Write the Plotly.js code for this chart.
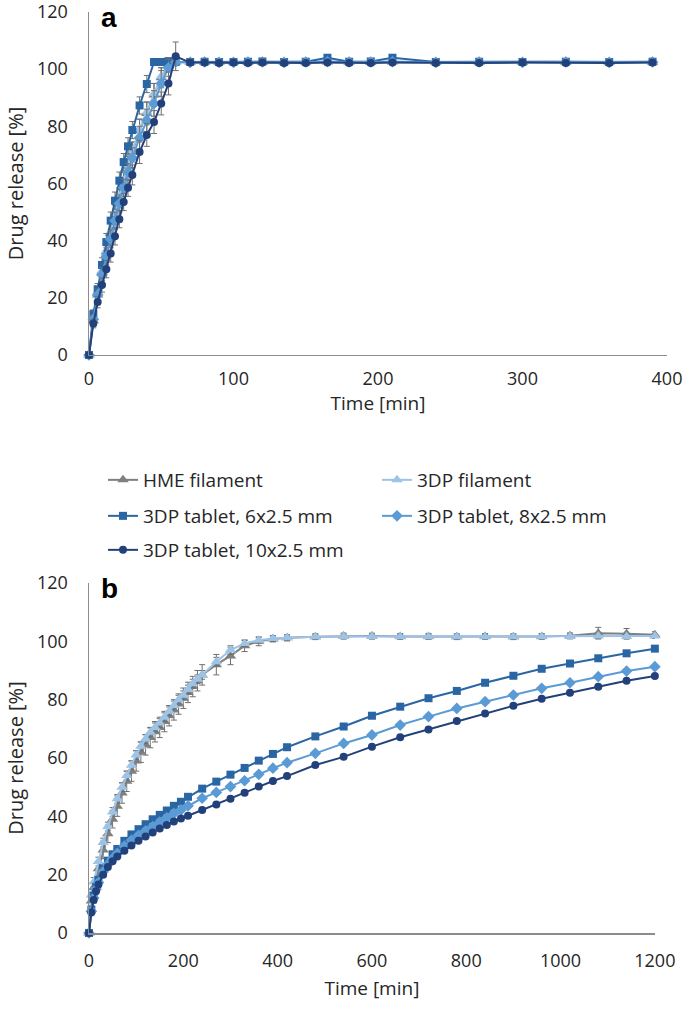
<!DOCTYPE html>
<html>
<head>
<meta charset="utf-8">
<script src="https://cdn.plot.ly/plotly-3.0.1.min.js"></script>
<style>html,body{margin:0;padding:0;background:#fff}#chart{width:685px;height:1016px}</style>
</head>
<body>
<div id="chart"></div>
<script>
// ---------- Panel a ----------
var timeA = [0,3,6,9,12,15,18,21,24,27,30,35,40,45,50,55,60,70,80,90,100,110,120,135,150,165,180,195,210,240,270,300,330,360,390];
var hmeA  = [0,12,21,29,36,42.5,49,55,60.5,66,71,78.5,84.5,91,97,101.5,102.5,102.4,102.4,102.3,102.4,102.3,102.4,102.3,102.4,102.5,102.4,102.3,102.5,102.3,102.4,102.3,102.4,102.3,102.4];
var fil3A = [0,13,22,29.5,36.5,43,49.5,55.5,61,66.5,71.5,79,85,91.5,97.5,101.5,102.5,102.5,102.6,102.5,102.5,102.6,102.6,102.5,102.6,102.8,102.6,102.6,102.7,102.5,102.6,102.5,102.6,102.5,102.6];
var tab6A = [0,14.3,23,31.5,39.5,47,54,61,67.5,73,78.7,87.3,94.8,102.5,102.5,102.8,102.5,102.5,102.6,102.5,102.5,102.6,102.7,102.5,102.6,104,102.6,102.7,104,102.5,102.6,102.5,102.6,102.5,102.6];
var tab8A = [0,12.5,21,28,34.5,40.5,47,53,58.5,64,69,76,82,88,95,100.5,102.5,102.4,102.5,102.4,102.4,102.5,102.5,102.4,102.5,102.6,102.5,102.5,102.6,102.4,102.5,102.4,102.5,102.4,102.5];
var tab10A= [0,11,18.5,24.5,30,35.5,41.5,47.5,53.5,58.5,63,71,77,81.5,88,95,104.5,102.3,102.3,102.2,102.3,102.2,102.3,102.2,102.2,102.3,102.2,102.2,102.3,102.2,102.2,102.3,102.2,102.2,102.3];
var hmeAerr  = [0,2,2.5,3,3,3.5,3.5,3.5,3.5,3.5,3.5,4,4,4,3.5,2,1,0.8,0.8,0.8,0.8,0.8,0.8,0.8,0.8,0.8,0.8,0.8,0.8,0.8,0.8,0.8,0.8,0.8,0.8];
var fil3Aerr = [0,1.5,2,2.5,3,3,3,3,3,3,3,3.5,3.5,3.5,3,2,1,0.8,0.8,0.8,0.8,0.8,0.8,0.8,0.8,0.8,0.8,0.8,0.8,0.8,0.8,0.8,0.8,0.8,0.8];
var tab6Aerr = [0,1.5,2,2.5,3,3,3,3,3,3,3,3,3,1,1,1,1,0.8,0.8,0.8,0.8,0.8,0.8,0.8,0.8,0.8,0.8,0.8,0.8,0.8,0.8,0.8,0.8,0.8,0.8];
var tab8Aerr = [0,1.5,2,2.5,3,3,3,3,3,3,3.5,4,4,4.5,4.5,3,1,0.8,0.8,0.8,0.8,0.8,0.8,0.8,0.8,0.8,0.8,0.8,0.8,0.8,0.8,0.8,0.8,0.8,0.8];
var tab10Aerr= [0,1.5,2,2.5,3,3,3,3,3,3,3.5,4,4,4,4,4,5,0.8,0.8,0.8,0.8,0.8,0.8,0.8,0.8,0.8,0.8,0.8,0.8,0.8,0.8,0.8,0.8,0.8,0.8];

// ---------- Panel b ----------
var timeFilB = [0,5,10,20,30,40,50,60,70,80,90,100,110,120,130,140,150,160,170,180,190,200,210,220,230,240,270,300,330,360,390,420,480,540,600,660,720,780,840,900,960,1020,1080,1140,1200];
var hmeB  = [0,11,15.5,22,28.5,34,39,43.5,48,52,55.5,59,62,64.5,67,69,70.5,72.5,74.5,76.5,78.5,80.5,82.5,84.5,86.5,88.5,92,95,98.5,100,100.8,101.2,101.6,101.8,101.8,101.7,101.7,101.6,101.7,101.6,101.7,101.9,102.8,102.6,102.3];
var fil3B = [0,13,17.5,24.5,31,36.5,41.5,46,50,54,57.5,61,64,66.5,68.8,70.5,72,74,76,78,80,81.5,83.5,85.5,87,88.5,93,97,99.3,100.4,101,101.2,101.6,101.7,101.7,101.6,101.6,101.6,101.6,101.6,101.6,101.7,101.8,101.7,101.8];
var hmeBerr  = [0,1.5,2,2.5,3,3,3,3.5,3.5,3.5,3.5,3.5,3.5,3.5,3.5,3.5,3.5,3.5,3.5,3.5,3.5,3.5,3.5,3.5,3.5,3.5,3.5,3,2,1.5,1,1,1,1,1,1,1,1,1,1,1,1,2,1.8,1];
var fil3Berr = [0,1,1.5,1.5,1.5,1.5,1.5,1.5,1.5,1.5,1.5,1.5,1.5,1.5,1.5,1.5,1.5,1.5,1.5,1.5,1.5,1.5,1.5,1.5,1.5,1.5,1.5,1.5,1,1,1,1,0.8,0.8,0.8,0.8,0.8,0.8,0.8,0.8,0.8,0.8,0.8,0.8,0.8];
var timeTabB = [0,5,10,15,20,30,40,50,60,75,90,105,120,135,150,165,180,195,210,240,270,300,330,360,390,420,480,540,600,660,720,780,840,900,960,1020,1080,1140,1200];
var tab6B  = [0,8,12.8,15.8,18.2,22.2,24.8,27,28.8,31.6,33.8,35.6,37.3,39,40.5,42,43.6,45,46.7,49.5,51.9,54.3,56.6,59.1,61.4,63.7,67.4,70.8,74.5,77.6,80.5,83,85.8,88.2,90.6,92.4,94.2,95.9,97.5];
var tab8B  = [0,7.5,12,15,17.3,21,23.5,25.5,27.3,29.8,31.8,33.5,35,36.5,38,39.5,41,42.2,43.6,46.2,48.2,50.2,52.2,54.4,56.5,58.4,61.6,65,67.9,71.3,74.2,77,79.3,81.6,83.9,85.8,87.9,89.8,91.3];
var tab10B = [0,7,11.3,14.3,16.6,20,22.6,24.6,26.2,28.2,30,31.6,33.1,34.5,35.8,37,38.2,39.3,40.2,42.2,44.1,46,48.1,50.2,52.1,53.8,57.6,60.4,63.9,67.1,69.8,72.7,75.3,77.9,80.3,82.4,84.4,86.5,88.1];

var seriesNames = ['HME filament','3DP filament','3DP tablet, 6x2.5 mm','3DP tablet, 8x2.5 mm','3DP tablet, 10x2.5 mm'];
var colors  = ['#7F7F7F','#9DC3E6','#2A66A3','#5B9BD5','#22417A'];
var symbols = ['triangle-up','triangle-up','square','diamond','circle'];
var msizes  = [10,10,8,9,8];
var legendOf = ['legend','legend2','legend3','legend4','legend5'];

var FONT = 'Open Sans, Noto Sans, sans-serif';
var TXT = '#262626';
var errColor = '#6F6F6F';

function mk(i, x, y, err, xa, ya, show){
  var t = {
    x: x, y: y, type:'scatter', mode:'lines+markers', name: seriesNames[i],
    legendgroup: 'g'+i, showlegend: show, legend: legendOf[i], cliponaxis:false,
    xaxis: xa, yaxis: ya,
    line:{color:colors[i], width:2},
    marker:{symbol:symbols[i], size:msizes[i], color:colors[i]},
    hoverinfo:'x+y'
  };
  if (err) t.error_y = {type:'data', array: err, visible:true, color: errColor, thickness:1, width:3};
  return t;
}

var data = [
  mk(0, timeA, hmeA, hmeAerr, 'x','y', false),
  mk(1, timeA, fil3A, fil3Aerr, 'x','y', false),
  mk(2, timeA, tab6A, tab6Aerr, 'x','y', false),
  mk(3, timeA, tab8A, tab8Aerr, 'x','y', false),
  mk(4, timeA, tab10A, tab10Aerr, 'x','y', false),
  mk(0, timeFilB, hmeB, hmeBerr, 'x2','y2', true),
  mk(1, timeFilB, fil3B, fil3Berr, 'x2','y2', true),
  mk(2, timeTabB, tab6B, null, 'x2','y2', true),
  mk(3, timeTabB, tab8B, null, 'x2','y2', true),
  mk(4, timeTabB, tab10B, null, 'x2','y2', true)
];

var axisCommon = {
  showgrid:false, zeroline:false, showline:true, linecolor:'#8C8C8C', linewidth:1.5,
  ticks:'', tickfont:{family:FONT, size:18, color:TXT}, ticklabeloverflow:'allow'
};
function ax(extra){ return Object.assign({}, axisCommon, extra); }
function ytitle(){ return {text:'Drug release [%]', font:{family:FONT, size:20, color:TXT}, standoff:8}; }
function xtitle(s){ return {text:'Time [min]', font:{family:FONT, size:19, color:TXT}, standoff:s}; }

// one legend box per entry; pixel positions of the reference's two-column legend
function legendAt(px, py){
  return {orientation:'v', x:(px-89)/578, y:(1016-83-py)/921, xref:'paper', yref:'paper',
    xanchor:'left', yanchor:'middle',
    font:{family:FONT, size:19, color:TXT}, bgcolor:'rgba(0,0,0,0)', itemwidth:30};
}

var layout = {
  width:685, height:1016,
  margin:{l:89, r:18, t:12, b:83},
  paper_bgcolor:'#ffffff', plot_bgcolor:'#ffffff',
  font:{family:FONT, color:TXT},
  xaxis: ax({domain:[0,1], range:[0,400], dtick:100, anchor:'y', ticklabelstandoff:7, title:xtitle(5)}),
  yaxis: ax({domain:[0.6276,1], range:[0,120], dtick:20, anchor:'x', ticklabelstandoff:16, title:ytitle()}),
  xaxis2: ax({domain:[0,0.979], range:[0,1200], dtick:200, anchor:'y2', ticklabelstandoff:11, title:xtitle(10)}),
  yaxis2: ax({domain:[0,0.38], range:[0,120], dtick:20, anchor:'x2', ticklabelstandoff:16, title:ytitle()}),
  showlegend:true,
  legend:  legendAt(103, 480),
  legend2: legendAt(377, 480),
  legend3: legendAt(103, 516),
  legend4: legendAt(377, 516),
  legend5: legendAt(103, 550),
  annotations:[
    {text:'<b>a</b>', xref:'paper', yref:'paper', x:(99-89)/578, y:1.0, xanchor:'left', yanchor:'top', yshift:12,
     showarrow:false, font:{family:'Liberation Sans, Arial, sans-serif', size:28, color:'#000'}},
    {text:'<b>b</b>', xref:'paper', yref:'paper', x:(99-89)/578, y:0.38, xanchor:'left', yanchor:'top', yshift:12,
     showarrow:false, font:{family:'Liberation Sans, Arial, sans-serif', size:28, color:'#000'}}
  ]
};

Plotly.newPlot('chart', data, layout, {displayModeBar:false, staticPlot:true});
</script>
</body>
</html>
